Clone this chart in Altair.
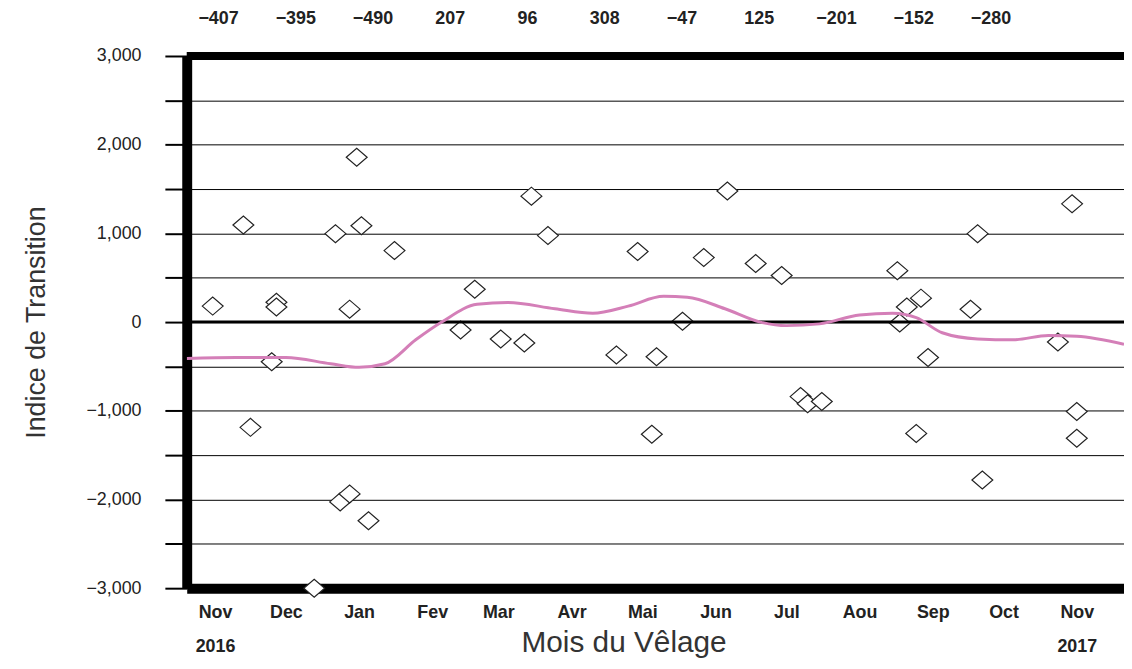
import altair as alt
import pandas as pd

# ---------------- data ----------------
pt_dates = ["2016-10-31", "2016-11-13", "2016-11-16", "2016-11-25", "2016-11-27", "2016-11-27",
            "2016-12-13", "2016-12-22", "2016-12-24", "2016-12-28", "2016-12-28", "2016-12-31",
            "2017-01-02", "2017-01-05", "2017-01-16", "2017-02-13", "2017-02-19",
            "2017-03-02", "2017-03-12", "2017-03-15", "2017-03-22",
            "2017-04-20", "2017-04-29", "2017-05-05", "2017-05-07", "2017-05-18", "2017-05-27",
            "2017-06-06", "2017-06-18", "2017-06-29", "2017-07-07", "2017-07-10", "2017-07-16",
            "2017-08-17", "2017-08-18", "2017-08-21", "2017-08-25", "2017-08-27", "2017-08-30",
            "2017-09-17", "2017-09-20", "2017-09-22",
            "2017-10-24", "2017-10-30", "2017-11-01", "2017-11-01"]
pt_values = [180, 1095, -1187, -448, 224, 170,
             -3000, 997, -2027, 146, -1937, 1859,
             1086, -2240, 806, -90, 370,
             -190, -235, 1420, 975,
             -370, 795, -1265, -390, 10, 727,
             1478, 660, 526, -840, -920, -895,
             580, -10, 170, -1255, 270, -400,
             145, 997, -1780,
             -225, 1333, -1008, -1310]

curve_dates = ["2016-10-20", "2016-11-10", "2016-12-01", "2016-12-20", "2017-01-01", "2017-01-12",
               "2017-01-25", "2017-02-05", "2017-02-20", "2017-03-05", "2017-03-25", "2017-04-10",
               "2017-04-25", "2017-05-10", "2017-05-20", "2017-06-05", "2017-06-20", "2017-07-01",
               "2017-07-15", "2017-08-01", "2017-08-15", "2017-08-25", "2017-09-05", "2017-09-20",
               "2017-10-05", "2017-10-20", "2017-11-01", "2017-11-21"]
curve_values = [-410, -400, -400, -470, -510, -470,
                -200, 0, 200, 220, 150, 100,
                180, 290, 280, 150, 0, -40,
                -20, 80, 100, 50, -120, -190,
                -200, -150, -160, -250]

month_means = [-407, -395, -490, 207, 96, 308, -47, 125, -201, -152, -280]

month_names = ["Jan", "Fev", "Mar", "Avr", "Mai", "Jun", "Jul", "Aou", "Sep", "Oct", "Nov", "Dec"]
tick_dates = ["2016-11-01", "2016-12-01", "2017-01-01", "2017-02-01", "2017-03-01", "2017-04-01",
              "2017-05-01", "2017-06-01", "2017-07-01", "2017-08-01", "2017-09-01", "2017-10-01",
              "2017-11-01"]
x_domain = ["2016-10-20", "2017-11-21"]
y_ticks = [-3000, -2500, -2000, -1500, -1000, -500, 0, 500, 1000, 1500, 2000, 2500, 3000]
frame_top = [3000]
zero_line = [0]

# ---------------- build ----------------
def ms(d):
    return int(pd.Timestamp(d, tz="UTC").timestamp() * 1000)

points = pd.DataFrame({"date": pt_dates, "value": pt_values})
curve = pd.DataFrame({"date": curve_dates, "value": curve_values})
means = pd.DataFrame({"idx": list(range(len(month_means))),
                      "label": [str(v).replace("-", "\u2212") for v in month_means]})

FONT = "Liberation Sans"
names_js = "[" + ",".join("'%s'" % m for m in month_names) + "]"
label_expr = ("utcmonth(datum.value) == 10 ? [%s[utcmonth(datum.value)], '' + utcyear(datum.value)]"
              " : %s[utcmonth(datum.value)]") % (names_js, names_js)

xscale = alt.Scale(type="utc", domain=[ms(d) for d in x_domain], nice=False)
yscale = alt.Scale(domain=[-3000, 3000], nice=False, zero=False)

x_enc = alt.X("date:T", scale=xscale,
              axis=alt.Axis(orient="bottom", values=[ms(d) for d in tick_dates], labelExpr=label_expr,
                            title="Mois du Vêlage", grid=False, ticks=False,
                            domainWidth=10, domainColor="black",
                            labelFont=FONT, labelFontSize=18, labelFontWeight="bold",
                            labelColor="#222", labelPadding=16, labelLineHeight=34,
                            labelAlign="center", labelBaseline="top",
                            titleFont=FONT, titleFontSize=30, titleFontWeight="normal",
                            titleColor="#333", titleX=440, titleY=64,
                            titleBaseline="alphabetic", titleAnchor="start", titleAlign="center"))
y_enc = alt.Y("value:Q", scale=yscale,
              axis=alt.Axis(values=y_ticks, format=",d",
                            labelExpr="datum.value % 1000 === 0 ? datum.label : ''",
                            title="Indice de Transition", grid=True, gridColor="black",
                            gridWidth=1, gridOpacity=1,
                            tickSize=22, tickColor="black", tickWidth=2,
                            domainWidth=10, domainColor="black",
                            labelFont=FONT, labelFontSize=18, labelColor="#222",
                            labelPadding=24,
                            titleFont=FONT, titleFontSize=27, titleFontWeight="normal",
                            titleColor="#333", titlePadding=36))

diamond = "M-1,0L0,-0.86L1,0L0,0.86Z"

pts = alt.Chart(points).mark_point(shape=diamond, size=441, filled=True, fill="white",
                                   stroke="#222", strokeWidth=1.2, opacity=1,
                                   clip=False).encode(x=x_enc, y=y_enc)

line = alt.Chart(curve).mark_line(color="#d47fb8", strokeWidth=3, interpolate="monotone",
                                  clip=True).encode(
    x=alt.X("date:T", scale=xscale, axis=None), y=alt.Y("value:Q", scale=yscale))

zero = alt.Chart(pd.DataFrame({"v": zero_line})).mark_rule(color="black", strokeWidth=3).encode(
    y=alt.Y("v:Q", scale=yscale))
top = alt.Chart(pd.DataFrame({"v": frame_top})).mark_rule(color="black", strokeWidth=8).encode(
    y=alt.Y("v:Q", scale=yscale))

txt = alt.Chart(means).mark_text(font=FONT, fontSize=18, fontWeight="bold", color="#222",
                                 baseline="middle", align="center").encode(
    x=alt.X("idx:Q", scale=alt.Scale(domain=[0, len(month_means) - 1], range=[32, 810]),
            axis=None),
    y=alt.value(-37),
    text="label:N")

chart = alt.layer(pts, zero, top, line, txt).resolve_scale(x="independent").properties(
    width=944, height=536,
    padding={"left": 180, "top": 46, "right": 0, "bottom": 70},
    autosize=alt.AutoSizeParams(type="none"),
    background="white",
).configure_view(stroke=None)

chart.save("out.html", embed_options={"renderer": "svg", "actions": False})
